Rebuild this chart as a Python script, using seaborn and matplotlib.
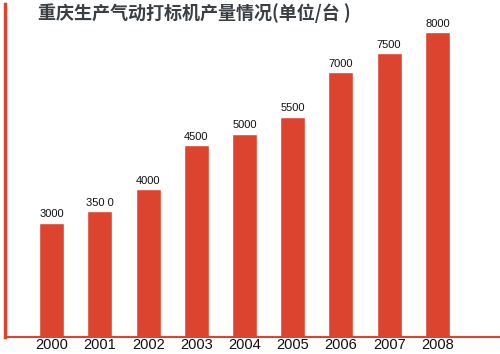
import matplotlib
matplotlib.use("Agg")
import matplotlib.pyplot as plt
import seaborn as sns
import pandas as pd

# -- Дані (висоти стовпчиків, підписи - як на малюнку)
years = ["2000", "2001", "2002", "2003", "2004", "2005", "2006", "2007", "2008"]
output = [3000, 3305, 3880, 5035, 5335, 5780, 6950, 7450, 8000]
value_labels = ["3000", "350 0", "4000", "4500", "5000", "5500", "7000", "7500", "8000"]
title = "重庆生产气动打标机产量情况(单位/台 )"

BAR_COLOR = "#DD4430"

sns.set_theme(style="white")
plt.rcParams["font.family"] = ["Noto Sans CJK SC", "DejaVu Sans"]

df = pd.DataFrame({"year": years, "output": output})

fig = plt.figure(figsize=(5.0, 3.54), dpi=100)
ax = fig.add_axes([0.01, 0.048, 0.99, 0.942])

sns.barplot(data=df, x="year", y="output", color=BAR_COLOR, width=0.52,
            saturation=1, ax=ax)

# підписи значень над стовпчиками
for i, (v, lab) in enumerate(zip(output, value_labels)):
    ax.text(i, v + 90, lab, ha="center", va="bottom", fontsize=8,
            color="#111111", family="Liberation Sans")

ax.set_xlim(-0.97, 9.3)
ax.set_ylim(0, 8750)
ax.set_xlabel("")
ax.set_ylabel("")
ax.set_yticks([])
ax.tick_params(axis="x", length=0, pad=1, labelsize=10.5)
for lab in ax.get_xticklabels():
    lab.set_family("Liberation Sans")
    lab.set_color("#111111")

for side in ["top", "right"]:
    ax.spines[side].set_visible(False)
ax.spines["left"].set_color(BAR_COLOR)
ax.spines["left"].set_linewidth(2.5)
ax.spines["bottom"].set_color(BAR_COLOR)
ax.spines["bottom"].set_linewidth(1.5)

fig.text(0.076, 0.962, title, ha="left", va="center", fontsize=13,
         fontweight="bold", color="#3a3f44")

plt.savefig("out.png", dpi=100)
plt.close()
